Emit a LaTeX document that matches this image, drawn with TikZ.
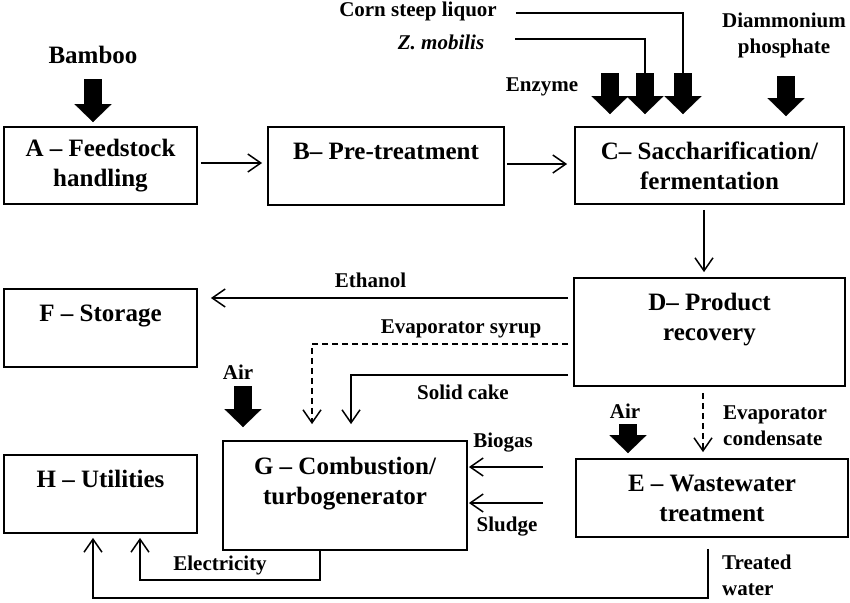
\documentclass[tikz,border=0pt]{standalone}
\usepackage{fontspec}
\setmainfont{Liberation Serif}
\usetikzlibrary{arrows.meta}
\usetikzlibrary{positioning}

\tikzset{
	unit/.style={draw, line width=1.8pt, align=center, inner sep=0pt,
		font=\fontsize{25}{30}\selectfont\bfseries},
	lbl/.style={inner sep=0pt, align=center, font=\fontsize{21}{26}\selectfont\bfseries},
	flow/.style={line width=1.5pt, ->},
	side/.style={line width=1.5pt, dash pattern=on 6pt off 4pt, ->},
	feed/.style={line width=1.5pt},
	fat/.style={line width=18pt, -{Triangle[width=37pt,length=18pt,line width=0.1pt]}}
}

\begin{document}
\begin{tikzpicture}[x=1pt, y=-1pt, >={Straight Barb[length=13pt,width=18pt]}]
		\useasboundingbox (0,0) rectangle (850,602);
		%% The units
		\node[unit, minimum width=193pt, minimum height=77pt] (A) at (100.5,165.5) {A – Feedstock\\handling};
		\node[unit, minimum width=236pt, minimum height=78pt] (B) at (386,166) {B– Pre-treatment\\\mbox{}};
		\node[unit, minimum width=269pt, minimum height=77pt] (C) at (709.5,165.5) {C– Saccharification/\\fermentation};
		\node[unit, minimum width=271pt, minimum height=108pt] (D) at (709.5,332) {D– Product\\recovery\\\mbox{}};
		\node[unit, minimum width=272pt, minimum height=78pt] (E) at (712,498) {E – Wastewater\\treatment};
		\node[unit, minimum width=193pt, minimum height=78pt] (F) at (100.5,328) {F – Storage\\\mbox{}};
		\node[unit, minimum width=244pt, minimum height=109pt] (G) at (345,495.5) {G – Combustion/\\turbogenerator\\\mbox{}};
		\node[unit, minimum width=193pt, minimum height=78pt] (H) at (100.5,494) {H – Utilities\\\mbox{}};
		%% The inputs
		\node[lbl, font=\fontsize{25}{30}\selectfont\bfseries] (bamboo) at (93,55) {Bamboo};
		\node[lbl] (corn) at (418,11) {Corn steep liquor};
		\node[lbl] (zymo) at (441,42) {\itshape Z. mobilis};
		\node[lbl] (enzyme) at (542,87) {Enzyme};
		\node[lbl] (dap) at (784,35) {Diammonium\\phosphate};
		\node[lbl] (airg) at (238,372) {Air};
		\node[lbl] (aire) at (625,411) {Air};
		\coordinate (bamin) at (93,79);
		\coordinate (enzin) at (610,73);
		\coordinate (zymin) at (645,73);
		\coordinate (cornin) at (683,73);
		\coordinate (dapin) at (786,76);
		\coordinate (airgin) at (243,386);
		\coordinate (airein) at (628,424);
		\draw[feed] ([xshift=19pt]corn.east |- 0,13) -| (cornin);
		\draw[feed] (zymo.east |- 0,39) ++(31,0) -| (zymin);
		\draw[fat, shorten >=4pt] (bamin) -- (bamin |- A.north);
		\draw[fat, shorten >=12pt] (enzin) -- (enzin |- C.north);
		\draw[fat, shorten >=12pt] (zymin) -- (zymin |- C.north);
		\draw[fat, shorten >=12pt] (cornin) -- (cornin |- C.north);
		\draw[fat, shorten >=10pt] (dapin) -- (dapin |- C.north);
		\draw[fat, shorten >=13pt] (airgin) -- (airgin |- G.north);
		\draw[fat, shorten >=5pt] (airein) -- (airein |- E.north);
		%% Main line
		\draw[flow, shorten <=3pt, shorten >=5pt] (A.east |- 0,163) -- (B.west |- 0,163);
		\draw[flow, shorten <=2pt, shorten >=7pt] (B.east |- 0,164) -- (C.west |- 0,164);
		\draw[flow, shorten <=5pt, shorten >=5pt] (C.south -| 704,0) -- (D.north -| 704,0);
		%% Out of D
		\draw[flow, shorten <=5pt, shorten >=13pt] (D.west |- 0,298)
				-- node[lbl, above=10pt, xshift=-15pt] (ethanol) {Ethanol} (F.east |- 0,298);
		\draw[side, shorten <=5pt, shorten >=16pt] (D.west |- 0,344) -| (G.north -| 312,0);
		\draw[flow, shorten <=5pt, shorten >=16pt] (D.west |- 0,375) -| (G.north -| 351,0);
		\node[lbl] (syrup) at (461,329) {Evaporator syrup};
		\node[lbl] (cake) at (463,392) {Solid cake};
		\draw[side, shorten <=6pt, shorten >=6pt] (D.south -| 703,0) -- (E.north -| 703,0);
		\node[lbl, align=left, anchor=west] (cond) at (723,426) {Evaporator\\condensate};
		%% Into G
		\coordinate (bgin) at (543,467);
		\coordinate (slin) at (543,503);
		\draw[flow, shorten >=1pt] (bgin) -- (G.east |- bgin);
		\draw[flow, shorten >=1pt] (slin) -- (G.east |- slin);
		\node[lbl] (biogas) at (503,443) {Biogas};
		\node[lbl] (sludge) at (507,527) {Sludge};
		%% Back to H
		\draw[flow, shorten >=4pt] (G.south -| 320,0) -- ++(0,29) -| (H.south -| 140,0);
		\node[lbl] (elec) at (220,565) {Electricity};
		\draw[flow, shorten <=11pt, shorten >=4pt] (E.south -| 708,0) -- ++(0,60) -| (H.south -| 93,0);
		\node[lbl, align=left, anchor=west] (water) at (722,575) {Treated\\water};
	\end{tikzpicture}
\end{document}
